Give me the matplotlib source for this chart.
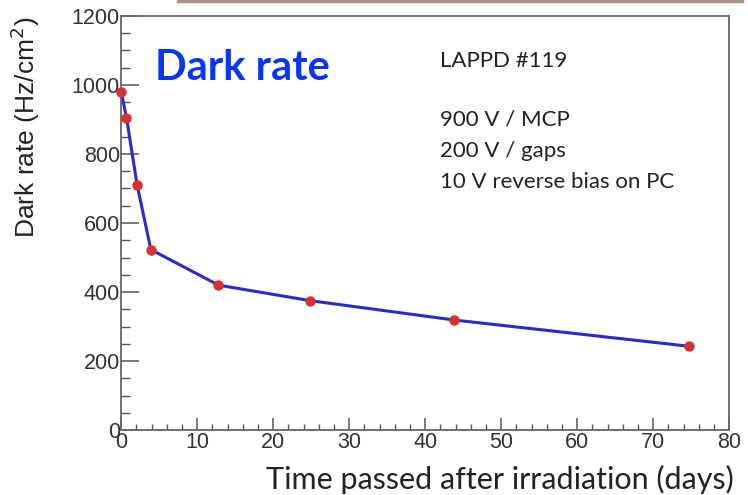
import matplotlib.pyplot as plt
from matplotlib.lines import Line2D
from matplotlib.ticker import MultipleLocator

days = [0, 0.7, 2.1, 3.9, 12.8, 24.9, 43.8, 74.7]
dark_rate = [980, 905, 710, 523, 420, 375, 319, 243]

annotation_lines = ["LAPPD #119", "", "900 V / MCP", "200 V / gaps", "10 V reverse bias on PC"]

fig = plt.figure(figsize=(7.48, 4.95), dpi=100)
ax = fig.add_axes([0.162, 0.131, 0.813, 0.837])

ax.plot(days, dark_rate, color="#2b2bc8", lw=2.2, zorder=2)
ax.plot(days, dark_rate, "o", color="#d8312f", ms=6.5, zorder=3, clip_on=False)

ax.set_xlim(0, 80)
ax.set_ylim(0, 1200)
ax.xaxis.set_major_locator(MultipleLocator(10))
ax.xaxis.set_minor_locator(MultipleLocator(2))
ax.yaxis.set_major_locator(MultipleLocator(200))
ax.yaxis.set_minor_locator(MultipleLocator(50))

ax.tick_params(which="both", direction="in", top=False, right=False, color="#555555")
ax.tick_params(which="major", width=1.1, labelsize=15.5, pad=1)
ax.tick_params(which="minor", width=1.0)
ax.tick_params(axis="y", which="major", length=13)
ax.tick_params(axis="y", which="minor", length=6.5)
ax.tick_params(axis="x", which="major", length=9)
ax.tick_params(axis="x", which="minor", length=4.5)
for lbl in ax.get_xticklabels() + ax.get_yticklabels():
    lbl.set_family("Liberation Sans")
    lbl.set_color("#333333")
for sp in ax.spines.values():
    sp.set_color("#666666")
    sp.set_linewidth(1.3)

ax.set_ylabel("Dark rate (Hz/cm$^2$)", fontsize=19, family="Liberation Sans",
              color="#222222")
ax.yaxis.set_label_coords(-0.13, 0.73)
ax.set_xlabel("Time passed after irradiation (days)", fontsize=22, family="Lato",
              color="#222222")
ax.xaxis.set_label_coords(1.007, -0.085)
ax.xaxis.label.set_horizontalalignment("right")
ax.xaxis.label.set_verticalalignment("top")

ax.text(0.055, 0.873, "Dark rate", transform=ax.transAxes, fontsize=30, family="Lato",
        fontweight="bold", color="#0b35f5", va="center")

ax.text(0.525, 0.891, annotation_lines[0], transform=ax.transAxes, fontsize=16,
        family="Lato", color="#222222", va="center")
ax.text(0.525, 0.773, "\n".join(annotation_lines[2:]), transform=ax.transAxes,
        fontsize=16, family="Lato", color="#222222", va="top", linespacing=1.7)

fig.add_artist(Line2D([178 / 748, 742 / 748], [1 - 1 / 495, 1 - 1 / 495],
                      color="#b09282", lw=2.5))

fig.savefig("out.png", dpi=100)
